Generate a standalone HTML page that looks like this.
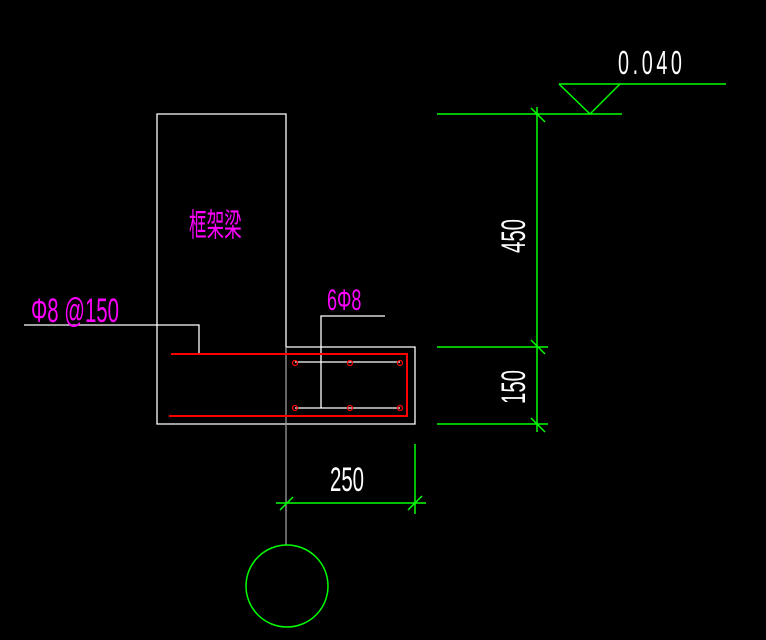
<!DOCTYPE html><html><head><style>html,body{margin:0;padding:0;background:#000;width:766px;height:640px;overflow:hidden}</style></head><body>
<svg width="766" height="640" viewBox="0 0 766 640" xmlns="http://www.w3.org/2000/svg" style="display:block">
<rect width="766" height="640" fill="#000"/>
<g stroke="#fff" stroke-width="1.3" fill="none">
<polyline points="286,347 286,114 157,114 157,424 415,424 415,347 286,347"/>
<polyline points="24,325 199,325 199,354"/>
<polyline points="385,316 321,316 321,408"/>
<line x1="295" y1="362" x2="400" y2="362"/>
<line x1="295" y1="408" x2="400" y2="408"/>
</g>
<line x1="286" y1="347" x2="286" y2="545" stroke="#999" stroke-width="1.3"/>
<g stroke="#f00" stroke-width="2" fill="none">
<polyline points="171,354 407,354 407,416 169,416"/>
<g stroke-width="1.2">
<circle cx="295" cy="363" r="2.5"/><circle cx="350" cy="363" r="2.5"/><circle cx="400" cy="363" r="2.5"/>
<circle cx="295" cy="408" r="2.5"/><circle cx="350" cy="408" r="2.5"/><circle cx="400" cy="408" r="2.5"/>
</g></g>
<g stroke="#0f0" stroke-width="1.5" fill="none">
<line x1="437" y1="114" x2="622" y2="114"/>
<line x1="559" y1="84" x2="726" y2="84"/>
<polyline points="559,84 590,114 620,84"/>
<line x1="537" y1="107" x2="537" y2="432"/>
<line x1="437" y1="347" x2="548" y2="347"/>
<line x1="437" y1="424" x2="548" y2="424"/>
<line x1="531" y1="108" x2="545" y2="122"/>
<line x1="531" y1="340" x2="545" y2="354"/>
<line x1="531" y1="418" x2="545" y2="432"/>
<line x1="276" y1="503" x2="426" y2="503"/>
<line x1="415" y1="444" x2="415" y2="514"/>
<line x1="280" y1="510" x2="293" y2="497"/>
<line x1="408" y1="510" x2="422" y2="496"/>
<circle cx="287" cy="586" r="41"/>
</g>
<g font-family="Liberation Sans, sans-serif" fill="#fff">
<text transform="translate(618,74) scale(0.6,1)" font-size="33" letter-spacing="6">0.040</text>
<text transform="translate(330,491) scale(0.6,1)" font-size="34">250</text>
<text transform="translate(525,253) rotate(-90) scale(0.6,1)" font-size="34">450</text>
<text transform="translate(525,404) rotate(-90) scale(0.6,1)" font-size="34">150</text>
</g>
<g font-family="Liberation Sans, 'Noto Sans CJK SC', sans-serif" fill="#f0f">
<text transform="translate(189,236) scale(0.55,1)" font-size="32">框架梁</text>
<text transform="translate(31,322) scale(0.6,1)" font-size="34">Φ8 @150</text>
<text transform="translate(327,310) scale(0.6,1)" font-size="30">6Φ8</text>
</g>
</svg>
</body></html>
